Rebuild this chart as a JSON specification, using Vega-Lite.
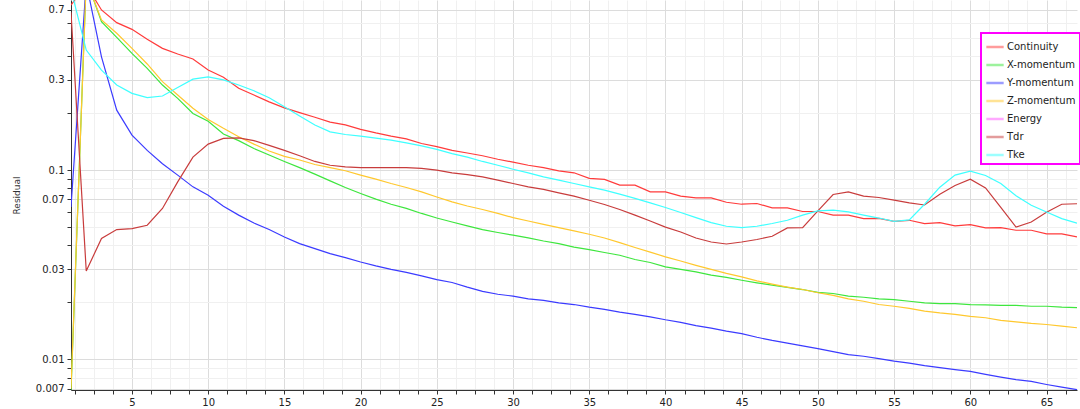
{
  "$schema": "https://vega.github.io/schema/vega-lite/v6.json",
  "width": 1006,
  "height": 390,
  "autosize": {"type": "none"},
  "padding": {"left": 71, "top": 0, "right": 3, "bottom": 19},
  "background": "white",
  "config": {
    "view": {"stroke": null},
    "font": "DejaVu Sans",
    "axis": {"labelFont": "DejaVu Sans", "labelFontSize": 10, "labelColor": "#222222", "domainColor": "#333333", "tickColor": "#333333", "titleFont": "DejaVu Sans", "gridWidth": 1},
    "legend": {"strokeWidth": 2}
  },
  "data": {"values": [
    {"iter":1,"series":"Continuity","res":0.743},{"iter":2,"series":"Continuity","res":0.948},{"iter":3,"series":"Continuity","res":0.700},{"iter":4,"series":"Continuity","res":0.600},{"iter":5,"series":"Continuity","res":0.553},{"iter":6,"series":"Continuity","res":0.490},{"iter":7,"series":"Continuity","res":0.439},{"iter":8,"series":"Continuity","res":0.410},{"iter":9,"series":"Continuity","res":0.386},{"iter":10,"series":"Continuity","res":0.337},
    {"iter":11,"series":"Continuity","res":0.309},{"iter":12,"series":"Continuity","res":0.270},{"iter":13,"series":"Continuity","res":0.249},{"iter":14,"series":"Continuity","res":0.229},{"iter":15,"series":"Continuity","res":0.213},{"iter":16,"series":"Continuity","res":0.201},{"iter":17,"series":"Continuity","res":0.190},{"iter":18,"series":"Continuity","res":0.179},{"iter":19,"series":"Continuity","res":0.173},{"iter":20,"series":"Continuity","res":0.164},
    {"iter":21,"series":"Continuity","res":0.157},{"iter":22,"series":"Continuity","res":0.151},{"iter":23,"series":"Continuity","res":0.146},{"iter":24,"series":"Continuity","res":0.138},{"iter":25,"series":"Continuity","res":0.133},{"iter":26,"series":"Continuity","res":0.127},{"iter":27,"series":"Continuity","res":0.123},{"iter":28,"series":"Continuity","res":0.119},{"iter":29,"series":"Continuity","res":0.114},{"iter":30,"series":"Continuity","res":0.110},
    {"iter":31,"series":"Continuity","res":0.106},{"iter":32,"series":"Continuity","res":0.103},{"iter":33,"series":"Continuity","res":0.0991},{"iter":34,"series":"Continuity","res":0.0967},{"iter":35,"series":"Continuity","res":0.0903},{"iter":36,"series":"Continuity","res":0.0892},{"iter":37,"series":"Continuity","res":0.0832},{"iter":38,"series":"Continuity","res":0.0832},{"iter":39,"series":"Continuity","res":0.0767},{"iter":40,"series":"Continuity","res":0.0767},
    {"iter":41,"series":"Continuity","res":0.0728},{"iter":42,"series":"Continuity","res":0.0713},{"iter":43,"series":"Continuity","res":0.0713},{"iter":44,"series":"Continuity","res":0.0676},{"iter":45,"series":"Continuity","res":0.0660},{"iter":46,"series":"Continuity","res":0.0666},{"iter":47,"series":"Continuity","res":0.0631},{"iter":48,"series":"Continuity","res":0.0631},{"iter":49,"series":"Continuity","res":0.0604},{"iter":50,"series":"Continuity","res":0.0604},
    {"iter":51,"series":"Continuity","res":0.0578},{"iter":52,"series":"Continuity","res":0.0578},{"iter":53,"series":"Continuity","res":0.0554},{"iter":54,"series":"Continuity","res":0.0556},{"iter":55,"series":"Continuity","res":0.0536},{"iter":56,"series":"Continuity","res":0.0543},{"iter":57,"series":"Continuity","res":0.0522},{"iter":58,"series":"Continuity","res":0.0528},{"iter":59,"series":"Continuity","res":0.0507},{"iter":60,"series":"Continuity","res":0.0515},
    {"iter":61,"series":"Continuity","res":0.0495},{"iter":62,"series":"Continuity","res":0.0497},{"iter":63,"series":"Continuity","res":0.0481},{"iter":64,"series":"Continuity","res":0.0481},{"iter":65,"series":"Continuity","res":0.0460},{"iter":66,"series":"Continuity","res":0.0460},{"iter":67,"series":"Continuity","res":0.0444},

    {"iter":1,"series":"X-momentum","res":0.0068},{"iter":2,"series":"X-momentum","res":1.02},{"iter":3,"series":"X-momentum","res":0.607},{"iter":4,"series":"X-momentum","res":0.502},{"iter":5,"series":"X-momentum","res":0.413},{"iter":6,"series":"X-momentum","res":0.344},{"iter":7,"series":"X-momentum","res":0.281},{"iter":8,"series":"X-momentum","res":0.239},{"iter":9,"series":"X-momentum","res":0.199},{"iter":10,"series":"X-momentum","res":0.181},
    {"iter":11,"series":"X-momentum","res":0.155},{"iter":12,"series":"X-momentum","res":0.143},{"iter":13,"series":"X-momentum","res":0.130},{"iter":14,"series":"X-momentum","res":0.120},{"iter":15,"series":"X-momentum","res":0.111},{"iter":16,"series":"X-momentum","res":0.103},{"iter":17,"series":"X-momentum","res":0.0951},{"iter":18,"series":"X-momentum","res":0.0877},{"iter":19,"series":"X-momentum","res":0.0809},{"iter":20,"series":"X-momentum","res":0.0752},
    {"iter":21,"series":"X-momentum","res":0.0702},{"iter":22,"series":"X-momentum","res":0.0660},{"iter":23,"series":"X-momentum","res":0.0627},{"iter":24,"series":"X-momentum","res":0.0590},{"iter":25,"series":"X-momentum","res":0.0558},{"iter":26,"series":"X-momentum","res":0.0532},{"iter":27,"series":"X-momentum","res":0.0507},{"iter":28,"series":"X-momentum","res":0.0485},{"iter":29,"series":"X-momentum","res":0.0468},{"iter":30,"series":"X-momentum","res":0.0453},
    {"iter":31,"series":"X-momentum","res":0.0438},{"iter":32,"series":"X-momentum","res":0.0422},{"iter":33,"series":"X-momentum","res":0.0409},{"iter":34,"series":"X-momentum","res":0.0392},{"iter":35,"series":"X-momentum","res":0.0380},{"iter":36,"series":"X-momentum","res":0.0367},{"iter":37,"series":"X-momentum","res":0.0355},{"iter":38,"series":"X-momentum","res":0.0337},{"iter":39,"series":"X-momentum","res":0.0325},{"iter":40,"series":"X-momentum","res":0.0308},
    {"iter":41,"series":"X-momentum","res":0.0299},{"iter":42,"series":"X-momentum","res":0.0290},{"iter":43,"series":"X-momentum","res":0.0279},{"iter":44,"series":"X-momentum","res":0.0271},{"iter":45,"series":"X-momentum","res":0.0262},{"iter":46,"series":"X-momentum","res":0.0254},{"iter":47,"series":"X-momentum","res":0.0247},{"iter":48,"series":"X-momentum","res":0.0240},{"iter":49,"series":"X-momentum","res":0.0234},{"iter":50,"series":"X-momentum","res":0.0226},
    {"iter":51,"series":"X-momentum","res":0.0223},{"iter":52,"series":"X-momentum","res":0.0216},{"iter":53,"series":"X-momentum","res":0.0213},{"iter":54,"series":"X-momentum","res":0.0209},{"iter":55,"series":"X-momentum","res":0.0207},{"iter":56,"series":"X-momentum","res":0.0203},{"iter":57,"series":"X-momentum","res":0.0199},{"iter":58,"series":"X-momentum","res":0.0197},{"iter":59,"series":"X-momentum","res":0.0197},{"iter":60,"series":"X-momentum","res":0.0195},
    {"iter":61,"series":"X-momentum","res":0.0194},{"iter":62,"series":"X-momentum","res":0.0193},{"iter":63,"series":"X-momentum","res":0.0193},{"iter":64,"series":"X-momentum","res":0.0191},{"iter":65,"series":"X-momentum","res":0.0191},{"iter":66,"series":"X-momentum","res":0.0189},{"iter":67,"series":"X-momentum","res":0.0188},

    {"iter":1,"series":"Y-momentum","res":0.0639},{"iter":2,"series":"Y-momentum","res":0.972},{"iter":3,"series":"Y-momentum","res":0.396},{"iter":4,"series":"Y-momentum","res":0.207},{"iter":5,"series":"Y-momentum","res":0.153},{"iter":6,"series":"Y-momentum","res":0.127},{"iter":7,"series":"Y-momentum","res":0.108},{"iter":8,"series":"Y-momentum","res":0.0940},{"iter":9,"series":"Y-momentum","res":0.0815},{"iter":10,"series":"Y-momentum","res":0.0737},
    {"iter":11,"series":"Y-momentum","res":0.0644},{"iter":12,"series":"Y-momentum","res":0.0578},{"iter":13,"series":"Y-momentum","res":0.0525},{"iter":14,"series":"Y-momentum","res":0.0485},{"iter":15,"series":"Y-momentum","res":0.0443},{"iter":16,"series":"Y-momentum","res":0.0409},{"iter":17,"series":"Y-momentum","res":0.0385},{"iter":18,"series":"Y-momentum","res":0.0362},{"iter":19,"series":"Y-momentum","res":0.0345},{"iter":20,"series":"Y-momentum","res":0.0327},
    {"iter":21,"series":"Y-momentum","res":0.0312},{"iter":22,"series":"Y-momentum","res":0.0299},{"iter":23,"series":"Y-momentum","res":0.0288},{"iter":24,"series":"Y-momentum","res":0.0276},{"iter":25,"series":"Y-momentum","res":0.0264},{"iter":26,"series":"Y-momentum","res":0.0255},{"iter":27,"series":"Y-momentum","res":0.0241},{"iter":28,"series":"Y-momentum","res":0.0229},{"iter":29,"series":"Y-momentum","res":0.0221},{"iter":30,"series":"Y-momentum","res":0.0216},
    {"iter":31,"series":"Y-momentum","res":0.0209},{"iter":32,"series":"Y-momentum","res":0.0205},{"iter":33,"series":"Y-momentum","res":0.0199},{"iter":34,"series":"Y-momentum","res":0.0195},{"iter":35,"series":"Y-momentum","res":0.0189},{"iter":36,"series":"Y-momentum","res":0.0184},{"iter":37,"series":"Y-momentum","res":0.0178},{"iter":38,"series":"Y-momentum","res":0.0173},{"iter":39,"series":"Y-momentum","res":0.0168},{"iter":40,"series":"Y-momentum","res":0.0162},
    {"iter":41,"series":"Y-momentum","res":0.0157},{"iter":42,"series":"Y-momentum","res":0.0151},{"iter":43,"series":"Y-momentum","res":0.01465},{"iter":44,"series":"Y-momentum","res":0.0141},{"iter":45,"series":"Y-momentum","res":0.0137},{"iter":46,"series":"Y-momentum","res":0.0131},{"iter":47,"series":"Y-momentum","res":0.0126},{"iter":48,"series":"Y-momentum","res":0.0122},{"iter":49,"series":"Y-momentum","res":0.0118},{"iter":50,"series":"Y-momentum","res":0.0114},
    {"iter":51,"series":"Y-momentum","res":0.0110},{"iter":52,"series":"Y-momentum","res":0.0106},{"iter":53,"series":"Y-momentum","res":0.0104},{"iter":54,"series":"Y-momentum","res":0.0101},{"iter":55,"series":"Y-momentum","res":0.00981},{"iter":56,"series":"Y-momentum","res":0.00957},{"iter":57,"series":"Y-momentum","res":0.00927},{"iter":58,"series":"Y-momentum","res":0.00905},{"iter":59,"series":"Y-momentum","res":0.00883},{"iter":60,"series":"Y-momentum","res":0.00865},
    {"iter":61,"series":"Y-momentum","res":0.00834},{"iter":62,"series":"Y-momentum","res":0.00807},{"iter":63,"series":"Y-momentum","res":0.00782},{"iter":64,"series":"Y-momentum","res":0.00766},{"iter":65,"series":"Y-momentum","res":0.00738},{"iter":66,"series":"Y-momentum","res":0.00714},{"iter":67,"series":"Y-momentum","res":0.00693},

    {"iter":1,"series":"Z-momentum","res":0.0070},{"iter":2,"series":"Z-momentum","res":1.0},{"iter":3,"series":"Z-momentum","res":0.620},{"iter":4,"series":"Z-momentum","res":0.527},{"iter":5,"series":"Z-momentum","res":0.439},{"iter":6,"series":"Z-momentum","res":0.363},{"iter":7,"series":"Z-momentum","res":0.293},{"iter":8,"series":"Z-momentum","res":0.249},{"iter":9,"series":"Z-momentum","res":0.212},{"iter":10,"series":"Z-momentum","res":0.185},
    {"iter":11,"series":"Z-momentum","res":0.166},{"iter":12,"series":"Z-momentum","res":0.150},{"iter":13,"series":"Z-momentum","res":0.137},{"iter":14,"series":"Z-momentum","res":0.126},{"iter":15,"series":"Z-momentum","res":0.118},{"iter":16,"series":"Z-momentum","res":0.113},{"iter":17,"series":"Z-momentum","res":0.107},{"iter":18,"series":"Z-momentum","res":0.103},{"iter":19,"series":"Z-momentum","res":0.0991},{"iter":20,"series":"Z-momentum","res":0.0940},
    {"iter":21,"series":"Z-momentum","res":0.0895},{"iter":22,"series":"Z-momentum","res":0.0849},{"iter":23,"series":"Z-momentum","res":0.0809},{"iter":24,"series":"Z-momentum","res":0.0767},{"iter":25,"series":"Z-momentum","res":0.0721},{"iter":26,"series":"Z-momentum","res":0.0679},{"iter":27,"series":"Z-momentum","res":0.0646},{"iter":28,"series":"Z-momentum","res":0.0619},{"iter":29,"series":"Z-momentum","res":0.0590},{"iter":30,"series":"Z-momentum","res":0.0561},
    {"iter":31,"series":"Z-momentum","res":0.0538},{"iter":32,"series":"Z-momentum","res":0.0517},{"iter":33,"series":"Z-momentum","res":0.0497},{"iter":34,"series":"Z-momentum","res":0.0477},{"iter":35,"series":"Z-momentum","res":0.0458},{"iter":36,"series":"Z-momentum","res":0.0438},{"iter":37,"series":"Z-momentum","res":0.0414},{"iter":38,"series":"Z-momentum","res":0.0390},{"iter":39,"series":"Z-momentum","res":0.0369},{"iter":40,"series":"Z-momentum","res":0.0348},
    {"iter":41,"series":"Z-momentum","res":0.0331},{"iter":42,"series":"Z-momentum","res":0.0314},{"iter":43,"series":"Z-momentum","res":0.0299},{"iter":44,"series":"Z-momentum","res":0.0285},{"iter":45,"series":"Z-momentum","res":0.0273},{"iter":46,"series":"Z-momentum","res":0.0260},{"iter":47,"series":"Z-momentum","res":0.0250},{"iter":48,"series":"Z-momentum","res":0.0241},{"iter":49,"series":"Z-momentum","res":0.0234},{"iter":50,"series":"Z-momentum","res":0.0225},
    {"iter":51,"series":"Z-momentum","res":0.0218},{"iter":52,"series":"Z-momentum","res":0.0209},{"iter":53,"series":"Z-momentum","res":0.0203},{"iter":54,"series":"Z-momentum","res":0.0195},{"iter":55,"series":"Z-momentum","res":0.0191},{"iter":56,"series":"Z-momentum","res":0.0186},{"iter":57,"series":"Z-momentum","res":0.0180},{"iter":58,"series":"Z-momentum","res":0.0176},{"iter":59,"series":"Z-momentum","res":0.0173},{"iter":60,"series":"Z-momentum","res":0.0169},
    {"iter":61,"series":"Z-momentum","res":0.0166},{"iter":62,"series":"Z-momentum","res":0.0161},{"iter":63,"series":"Z-momentum","res":0.0158},{"iter":64,"series":"Z-momentum","res":0.0155},{"iter":65,"series":"Z-momentum","res":0.0153},{"iter":66,"series":"Z-momentum","res":0.0150},{"iter":67,"series":"Z-momentum","res":0.0147},

    {"iter":1,"series":"Tdr","res":0.68},{"iter":2,"series":"Tdr","res":0.0293},{"iter":3,"series":"Tdr","res":0.0435},{"iter":4,"series":"Tdr","res":0.0485},{"iter":5,"series":"Tdr","res":0.0491},{"iter":6,"series":"Tdr","res":0.0511},{"iter":7,"series":"Tdr","res":0.0627},{"iter":8,"series":"Tdr","res":0.0866},{"iter":9,"series":"Tdr","res":0.117},{"iter":10,"series":"Tdr","res":0.137},
    {"iter":11,"series":"Tdr","res":0.147},{"iter":12,"series":"Tdr","res":0.148},{"iter":13,"series":"Tdr","res":0.143},{"iter":14,"series":"Tdr","res":0.135},{"iter":15,"series":"Tdr","res":0.127},{"iter":16,"series":"Tdr","res":0.119},{"iter":17,"series":"Tdr","res":0.111},{"iter":18,"series":"Tdr","res":0.106},{"iter":19,"series":"Tdr","res":0.104},{"iter":20,"series":"Tdr","res":0.103},
    {"iter":21,"series":"Tdr","res":0.103},{"iter":22,"series":"Tdr","res":0.103},{"iter":23,"series":"Tdr","res":0.103},{"iter":24,"series":"Tdr","res":0.102},{"iter":25,"series":"Tdr","res":0.0999},{"iter":26,"series":"Tdr","res":0.0967},{"iter":27,"series":"Tdr","res":0.0946},{"iter":28,"series":"Tdr","res":0.0921},{"iter":29,"series":"Tdr","res":0.0884},{"iter":30,"series":"Tdr","res":0.0849},
    {"iter":31,"series":"Tdr","res":0.0815},{"iter":32,"series":"Tdr","res":0.0790},{"iter":33,"series":"Tdr","res":0.0758},{"iter":34,"series":"Tdr","res":0.0728},{"iter":35,"series":"Tdr","res":0.0693},{"iter":36,"series":"Tdr","res":0.0658},{"iter":37,"series":"Tdr","res":0.0619},{"iter":38,"series":"Tdr","res":0.0578},{"iter":39,"series":"Tdr","res":0.0538},{"iter":40,"series":"Tdr","res":0.0500},
    {"iter":41,"series":"Tdr","res":0.0471},{"iter":42,"series":"Tdr","res":0.0438},{"iter":43,"series":"Tdr","res":0.0417},{"iter":44,"series":"Tdr","res":0.0407},{"iter":45,"series":"Tdr","res":0.0417},{"iter":46,"series":"Tdr","res":0.0430},{"iter":47,"series":"Tdr","res":0.0447},{"iter":48,"series":"Tdr","res":0.0495},{"iter":49,"series":"Tdr","res":0.0497},{"iter":50,"series":"Tdr","res":0.0609},
    {"iter":51,"series":"Tdr","res":0.0743},{"iter":52,"series":"Tdr","res":0.0767},{"iter":53,"series":"Tdr","res":0.0728},{"iter":54,"series":"Tdr","res":0.0716},{"iter":55,"series":"Tdr","res":0.0693},{"iter":56,"series":"Tdr","res":0.0671},{"iter":57,"series":"Tdr","res":0.0654},{"iter":58,"series":"Tdr","res":0.0746},{"iter":59,"series":"Tdr","res":0.0829},{"iter":60,"series":"Tdr","res":0.0895},
    {"iter":61,"series":"Tdr","res":0.0805},{"iter":62,"series":"Tdr","res":0.0636},{"iter":63,"series":"Tdr","res":0.0500},{"iter":64,"series":"Tdr","res":0.0532},{"iter":65,"series":"Tdr","res":0.0599},{"iter":66,"series":"Tdr","res":0.0660},{"iter":67,"series":"Tdr","res":0.0664},

    {"iter":1,"series":"Tke","res":0.898},{"iter":2,"series":"Tke","res":0.430},{"iter":3,"series":"Tke","res":0.337},{"iter":4,"series":"Tke","res":0.281},{"iter":5,"series":"Tke","res":0.254},{"iter":6,"series":"Tke","res":0.241},{"iter":7,"series":"Tke","res":0.246},{"iter":8,"series":"Tke","res":0.273},{"iter":9,"series":"Tke","res":0.302},{"iter":10,"series":"Tke","res":0.310},
    {"iter":11,"series":"Tke","res":0.299},{"iter":12,"series":"Tke","res":0.281},{"iter":13,"series":"Tke","res":0.262},{"iter":14,"series":"Tke","res":0.241},{"iter":15,"series":"Tke","res":0.216},{"iter":16,"series":"Tke","res":0.193},{"iter":17,"series":"Tke","res":0.173},{"iter":18,"series":"Tke","res":0.159},{"iter":19,"series":"Tke","res":0.154},{"iter":20,"series":"Tke","res":0.151},
    {"iter":21,"series":"Tke","res":0.1475},{"iter":22,"series":"Tke","res":0.144},{"iter":23,"series":"Tke","res":0.139},{"iter":24,"series":"Tke","res":0.134},{"iter":25,"series":"Tke","res":0.1285},{"iter":26,"series":"Tke","res":0.122},{"iter":27,"series":"Tke","res":0.117},{"iter":28,"series":"Tke","res":0.111},{"iter":29,"series":"Tke","res":0.106},{"iter":30,"series":"Tke","res":0.101},
    {"iter":31,"series":"Tke","res":0.0967},{"iter":32,"series":"Tke","res":0.0921},{"iter":33,"series":"Tke","res":0.0884},{"iter":34,"series":"Tke","res":0.0849},{"iter":35,"series":"Tke","res":0.0815},{"iter":36,"series":"Tke","res":0.0783},{"iter":37,"series":"Tke","res":0.0746},{"iter":38,"series":"Tke","res":0.0708},{"iter":39,"series":"Tke","res":0.0671},{"iter":40,"series":"Tke","res":0.0634},
    {"iter":41,"series":"Tke","res":0.0597},{"iter":42,"series":"Tke","res":0.0561},{"iter":43,"series":"Tke","res":0.0528},{"iter":44,"series":"Tke","res":0.0505},{"iter":45,"series":"Tke","res":0.0497},{"iter":46,"series":"Tke","res":0.0505},{"iter":47,"series":"Tke","res":0.0522},{"iter":48,"series":"Tke","res":0.0543},{"iter":49,"series":"Tke","res":0.0578},{"iter":50,"series":"Tke","res":0.0609},
    {"iter":51,"series":"Tke","res":0.0614},{"iter":52,"series":"Tke","res":0.0601},{"iter":53,"series":"Tke","res":0.0578},{"iter":54,"series":"Tke","res":0.0558},{"iter":55,"series":"Tke","res":0.0536},{"iter":56,"series":"Tke","res":0.0546},{"iter":57,"series":"Tke","res":0.0660},{"iter":58,"series":"Tke","res":0.0812},{"iter":59,"series":"Tke","res":0.0940},{"iter":60,"series":"Tke","res":0.0987},
    {"iter":61,"series":"Tke","res":0.0936},{"iter":62,"series":"Tke","res":0.0849},{"iter":63,"series":"Tke","res":0.0732},{"iter":64,"series":"Tke","res":0.0652},{"iter":65,"series":"Tke","res":0.0600},{"iter":66,"series":"Tke","res":0.0554},{"iter":67,"series":"Tke","res":0.0524}
  ]},
  "mark": {"type": "line", "strokeWidth": 1.2, "clip": true},
  "encoding": {
    "x": {
      "field": "iter", "type": "quantitative",
      "scale": {"domain": [1, 67], "nice": false, "zero": false},
      "axis": {
        "title": null,
        "values": [1.25,2.5,3.75,5,6.25,7.5,8.75,10,11.25,12.5,13.75,15,16.25,17.5,18.75,20,21.25,22.5,23.75,25,26.25,27.5,28.75,30,31.25,32.5,33.75,35,36.25,37.5,38.75,40,41.25,42.5,43.75,45,46.25,47.5,48.75,50,51.25,52.5,53.75,55,56.25,57.5,58.75,60,61.25,62.5,63.75,65,66.25],
        "labelExpr": "datum.value % 5 === 0 ? format(datum.value, 'd') : ''",
        "labelOverlap": false,
        "labelFlush": false,
        "grid": true,
        "gridColor": {"condition": {"test": "datum.value % 5 === 0", "value": "#dcdcdc"}, "value": "#f0f0f0"},
        "tickSize": 4,
        "labelPadding": 3
      }
    },
    "y": {
      "field": "res", "type": "quantitative",
      "scale": {"type": "log", "domain": [0.0069, 0.79], "nice": false},
      "axis": {
        "title": "Residual",
        "titleFontSize": 9,
        "titleFontWeight": "normal",
        "titleColor": "#333333",
        "titlePadding": 14,
        "values": [0.007,0.008,0.009,0.01,0.02,0.03,0.04,0.05,0.06,0.07,0.08,0.09,0.1,0.2,0.3,0.4,0.5,0.6,0.7],
        "labelExpr": "indexof([0.007,0.01,0.03,0.07,0.1,0.3,0.7], datum.value) >= 0 ? format(datum.value, '~g') : ''",
        "labelOverlap": false,
        "labelFlush": false,
        "grid": true,
        "gridColor": {"condition": {"test": "indexof([0.007,0.01,0.03,0.07,0.1,0.3,0.7], datum.value) >= 0", "value": "#dcdcdc"}, "value": "#f0f0f0"},
        "tickSize": 4,
        "labelPadding": 3
      }
    },
    "color": {
      "field": "series", "type": "nominal",
      "scale": {
        "domain": ["Continuity", "X-momentum", "Y-momentum", "Z-momentum", "Energy", "Tdr", "Tke"],
        "range": ["#ff3b3b", "#3ee63e", "#3b3bff", "#ffc82e", "#ff55ff", "#c83c3c", "#3effff"]
      },
      "legend": {
        "title": null,
        "orient": "none",
        "legendX": 910,
        "legendY": 33,
        "fillColor": "white",
        "strokeColor": "#ff00ff",
        "padding": 4,
        "labelFont": "DejaVu Sans",
        "labelFontSize": 10,
        "labelColor": "#222222",
        "labelLimit": 200,
        "labelOffset": 2,
        "symbolType": "stroke",
        "symbolSize": 300,
        "symbolStrokeWidth": 2.5,
        "symbolOpacity": 0.5,
        "rowPadding": 3
      }
    }
  }
}
